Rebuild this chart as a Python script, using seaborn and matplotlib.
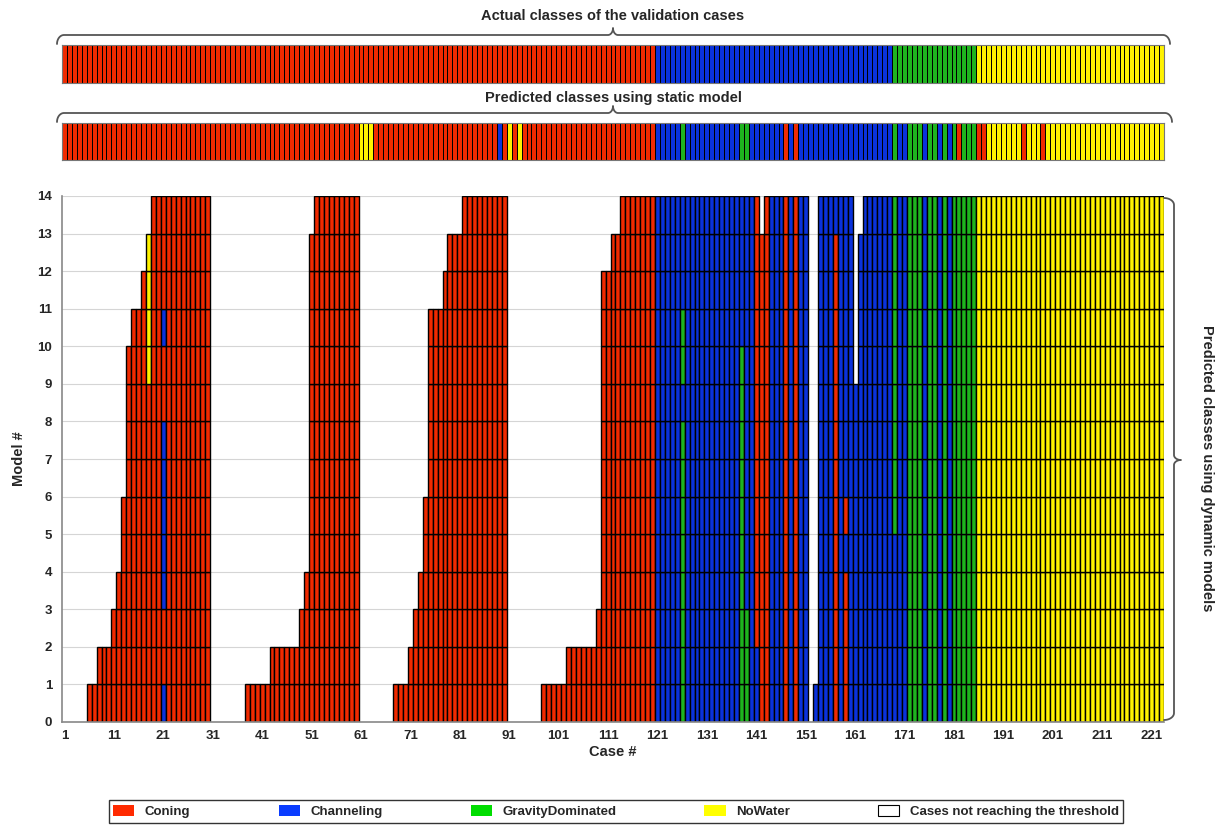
import numpy as np
import matplotlib
matplotlib.use("Agg")
import matplotlib.pyplot as plt
import seaborn as sns
from matplotlib.colors import ListedColormap
from matplotlib.patches import Patch
from matplotlib.lines import Line2D

# classes and colours
classes = ["Coning", "Channeling", "GravityDominated", "NoWater"]
class_codes = "CHGN"
cell_colors = ["#F02A00", "#0A32DC", "#1EB41E", "#FFF200"]
legend_colors = ["#FF2A00", "#0A3CFF", "#00DD00", "#FFFF00"]
n_models = 14

# actual class of each validation case (C=Coning, H=Channeling, G=GravityDominated, N=NoWater)
actual = (
    "CCCCCCCCCC CCCCCCCCCC CCCCCCCCCC CCCCCCCCCC CCCCCCCCCC CCCCCCCCCC "
    "CCCCCCCCCC CCCCCCCCCC CCCCCCCCCC CCCCCCCCCC CCCCCCCCCC CCCCCCCCCC "
    "HHHHHHHHHH HHHHHHHHHH HHHHHHHHHH HHHHHHHHHH HHHHHHHH"
    "GG GGGGGGGGGG GGGGG"
    "NNNNN NNNNNNNNNN NNNNNNNNNN NNNNNNNNNN NNN"
).replace(" ", "")

# class predicted by the static model
static_pred = (
    "CCCCCCCCCC CCCCCCCCCC CCCCCCCCCC CCCCCCCCCC CCCCCCCCCC CCCCCCCCCC "
    "NNNCCCCCCC CCCCCCCCCC CCCCCCCCHC NCNCCCCCCC CCCCCCCCCC CCCCCCCCCC "
    "HHHHHGHHHH HHHHHHHGGH HHHHHHCHCH HHHHHHHHHH HHHHHHHH"
    "GH HGGGHGGHGH GCGGG"
    "CCNNN NNNNCNNNCN NNNNNNNNNN NNNNNNNNNN NNN"
).replace(" ", "")

# number of dynamic models reaching the threshold for each case
heights = [
    0, 0, 0, 0, 0, 1, 1, 2, 2, 2,
    3, 4, 6, 10, 11, 11, 12, 13, 14, 14,
    14, 14, 14, 14, 14, 14, 14, 14, 14, 14,
    0, 0, 0, 0, 0, 0, 0, 1, 1, 1,
    1, 1, 2, 2, 2, 2, 2, 2, 3, 4,
    13, 14, 14, 14, 14, 14, 14, 14, 14, 14,
    0, 0, 0, 0, 0, 0, 0, 1, 1, 1,
    2, 3, 4, 6, 11, 11, 11, 12, 13, 13,
    13, 14, 14, 14, 14, 14, 14, 14, 14, 14,
    0, 0, 0, 0, 0, 0, 0, 1, 1, 1,
    1, 1, 2, 2, 2, 2, 2, 2, 3, 12,
    12, 13, 13, 14, 14, 14, 14, 14, 14, 14,
    14, 14, 14, 14, 14, 14, 14, 14, 14, 14,
    14, 14, 14, 14, 14, 14, 14, 14, 14, 14,
    14, 13, 14, 14, 14, 14, 14, 14, 14, 14,
    14, 0, 1, 14, 14, 14, 14, 14, 14, 14,
    9, 13, 14, 14, 14, 14, 14, 14, 14, 14,
    14, 14, 14, 14, 14, 14, 14, 14, 14, 14,
    14, 14, 14, 14, 14, 14, 14, 14, 14, 14,
    14, 14, 14, 14, 14, 14, 14, 14, 14, 14,
    14, 14, 14, 14, 14, 14, 14, 14, 14, 14,
    14, 14, 14, 14, 14, 14, 14, 14, 14, 14,
    14, 14, 14,
]

# dynamic predictions that differ from the actual class: (case, models, class)
dynamic_exceptions = [
    (18, [10, 11, 12, 13], "N"),
    (21, [1, 4, 5, 6, 7, 8, 11], "H"),
    (126, [1, 2, 3, 4, 5, 6, 7, 8, 10, 11], "G"),
    (138, [1, 2, 3, 4, 5, 6, 7, 8, 9, 10], "G"),
    (139, [1, 2, 3], "G"),
    (141, [3, 4, 5, 6, 7, 8, 9, 10, 11, 12, 13, 14], "C"),
    (142, [1, 2, 3, 4, 5, 6, 7, 8, 9, 10, 11, 12, 13], "C"),
    (143, [1, 2, 3, 4, 5, 6, 7, 8, 9, 10, 11, 12, 13, 14], "C"),
    (147, [1, 2, 3, 4, 5, 6, 7, 8, 9, 10, 11, 12, 13, 14], "C"),
    (149, [1, 2, 3, 4, 5, 6, 7, 8, 9, 10, 11, 12, 13, 14], "C"),
    (157, [1, 2, 3, 4, 5, 6, 7, 8, 9, 10, 11, 12, 13], "C"),
    (159, [1, 2, 3, 4, 6], "C"),
    (169, [1, 2, 3, 4, 5], "H"),
    (170, [1, 2, 3, 4, 5, 6, 7, 8, 9, 10, 11, 12, 13, 14], "H"),
    (171, [1, 2, 3, 4, 5, 6, 7, 8, 9, 10, 11, 12, 13, 14], "H"),
    (175, [1, 2, 3, 4, 5, 6, 7, 8, 9, 10, 11, 12, 13, 14], "H"),
    (178, [1, 2, 3, 4, 5, 6, 7, 8, 9, 10, 11, 12, 13, 14], "H"),
    (180, [1, 2, 3, 4, 5, 6, 7, 8, 9, 10, 11, 12, 13, 14], "H"),
]

W, H = 1223, 826
code_of = {c: i for i, c in enumerate(class_codes)}
n_cases = len(actual)

actual_row = np.array([[code_of[c] for c in actual]], dtype=float)
static_row = np.array([[code_of[c] for c in static_pred]], dtype=float)

dyn = np.tile(actual_row, (n_models, 1)).astype(int)
for case, models, cls in dynamic_exceptions:
    for m in models:
        dyn[m - 1, case - 1] = code_of[cls]

sns.set_style("white")
plt.rcParams["font.family"] = ["Liberation Sans", "DejaVu Sans"]
cmap = ListedColormap(cell_colors)

fig = plt.figure(figsize=(W / 100, H / 100), dpi=100)


def px_axes(x0, y0, x1, y1):
    return fig.add_axes([x0 / W, 1 - y1 / H, (x1 - x0) / W, (y1 - y0) / H])


ax_act = px_axes(62, 45, 1164, 83)
ax_sta = px_axes(62, 123, 1164, 160)
ax = px_axes(62, 196, 1164, 722)

# top strips: actual and static classes
for strip_ax, row in [(ax_act, actual_row), (ax_sta, static_row)]:
    sns.heatmap(row, cmap=cmap, vmin=-0.5, vmax=3.5, cbar=False, linewidths=0.55,
                linecolor="black", xticklabels=False, yticklabels=False, ax=strip_ax)
    for sp in strip_ax.spines.values():
        sp.set_visible(True)
        sp.set_color("#777777")
        sp.set_linewidth(0.8)

# main chart: one stacked cell per case and dynamic model
heights_arr = np.array(heights)
for m in range(n_models):
    idx = np.where(heights_arr > m)[0]
    ax.bar(idx, 1, bottom=m, width=1, align="edge",
           color=[cell_colors[k] for k in dyn[m, idx]],
           edgecolor="black", linewidth=1.0, zorder=2)

ax.set_ylim(0, n_models)
ax.set_xlim(0, n_cases)
ax.set_yticks(range(n_models + 1))
ax.set_yticklabels([str(i) for i in range(n_models + 1)], fontweight="bold", fontsize=9.5)
ax.set_xticks([j + 0.5 for j in range(0, n_cases, 10)])
ax.set_xticklabels([str(j + 1) for j in range(0, n_cases, 10)], fontweight="bold", fontsize=9.5)
ax.set_xticks(np.arange(0, n_cases + 1), minor=True)
ax.tick_params(axis="x", which="major", length=0, pad=6)
ax.tick_params(axis="x", which="minor", length=4, color="#aaaaaa", width=0.8)
ax.tick_params(axis="y", which="major", length=4, color="#888888", width=0.8, pad=3)
ax.yaxis.grid(True, color="#d5d5d5", linewidth=0.8)
ax.set_axisbelow(True)
for side in ["top", "right"]:
    ax.spines[side].set_visible(False)
for side in ["left", "bottom"]:
    ax.spines[side].set_color("#888888")
    ax.spines[side].set_linewidth(1.2)
ax.set_xlabel("Case #", fontweight="bold", fontsize=10.5, labelpad=2)
ax.set_ylabel("Model #", fontweight="bold", fontsize=10.5, labelpad=8)


def to_fig(xs, ys):
    return np.asarray(xs) / W, 1 - np.asarray(ys) / H


def brace_points(a0, a1, e, l, t, m, r=7, rt=5):
    # brace along one axis (a), end offset e, line offset l, tip offset t
    th = np.linspace(0, np.pi / 2, 15)
    a = list(a0 + r * (1 - np.cos(th)))
    b = list(e + (l - e) * np.sin(th))
    a += list(m - rt + rt * np.sin(th))
    b += list(l + (t - l) * (1 - np.cos(th)))
    a += list(m + rt - rt * np.sin(th[::-1]))
    b += list(l + (t - l) * (1 - np.cos(th[::-1])))
    a += list(a1 - r * (1 - np.cos(th[::-1])))
    b += list(e + (l - e) * np.sin(th[::-1]))
    return np.array(a), np.array(b)


brace_style = dict(color="#555555", linewidth=1.3, transform=fig.transFigure)
xs, ys = brace_points(57, 1170, 44, 35, 28, 613)
fig.add_artist(Line2D(*to_fig(xs, ys), **brace_style))
xs, ys = brace_points(57, 1172, 122, 113, 106, 613)
fig.add_artist(Line2D(*to_fig(xs, ys), **brace_style))
ys, xs = brace_points(198, 720, 1164, 1174, 1181, 460)
fig.add_artist(Line2D(*to_fig(xs, ys), **brace_style))

fig.text(613 / W, 1 - 16 / H, "Actual classes of the validation cases", ha="center", va="center",
         fontweight="bold", fontsize=10.5)
fig.text(613 / W, 1 - 98 / H, "Predicted classes using static model", ha="center", va="center",
         fontweight="bold", fontsize=10.5)
fig.text(1207 / W, 1 - 468 / H, "Predicted classes using dynamic models", ha="center", va="center",
         rotation=270, fontweight="bold", fontsize=10.5)

handles = [Patch(facecolor=c, edgecolor="none") for c in legend_colors]
handles.append(Patch(facecolor="white", edgecolor="black", linewidth=0.8))
labels = classes + ["Cases not reaching the threshold"]
leg = fig.legend(handles, labels, loc="lower left", ncol=5, mode="expand",
                 bbox_to_anchor=(102 / W, -0.004, 1028 / W, 30 / H), frameon=True, fancybox=False,
                 edgecolor="black", prop={"weight": "bold", "size": 9.5}, handlelength=1.6,
                 handleheight=1.0, borderpad=0.35)
leg.get_frame().set_linewidth(1.0)

fig.savefig("out.png", dpi=100)
